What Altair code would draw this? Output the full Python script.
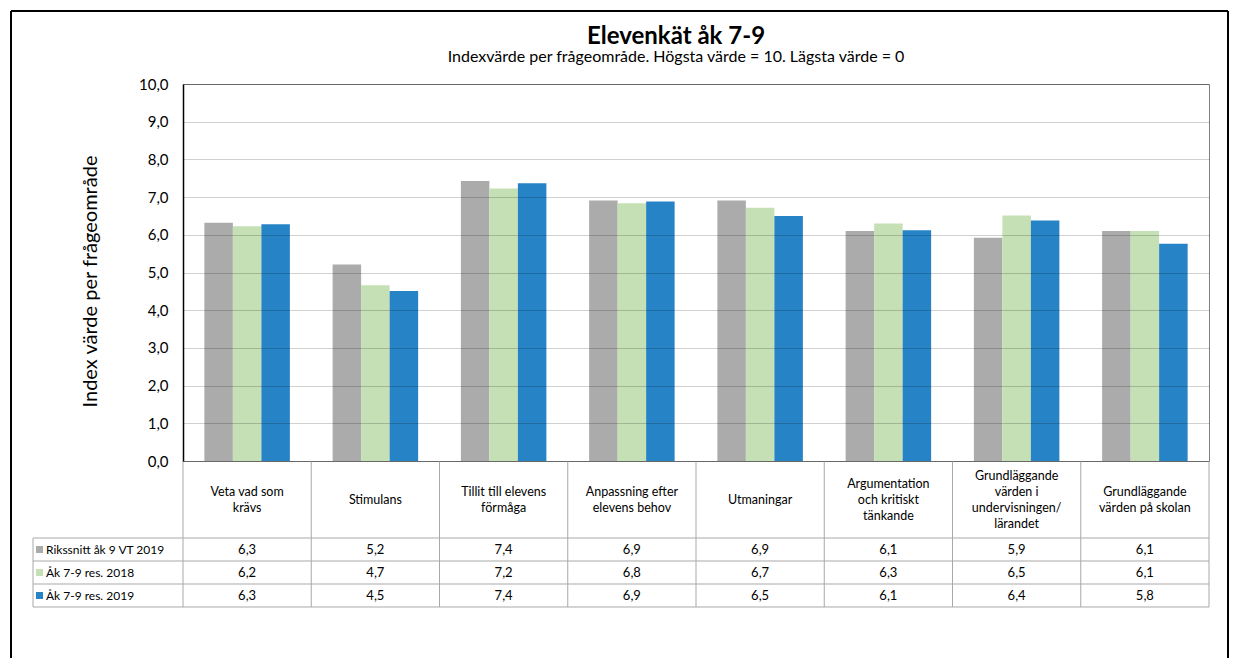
import altair as alt
import pandas as pd

categories = [
    "Veta vad som krävs",
    "Stimulans",
    "Tillit till elevens förmåga",
    "Anpassning efter elevens behov",
    "Utmaningar",
    "Argumentation och kritiskt tänkande",
    "Grundläggande värden i undervisningen/lärandet",
    "Grundläggande värden på skolan",
]
category_labels = [
    "Veta vad som\nkrävs",
    "Stimulans",
    "Tillit till elevens\nförmåga",
    "Anpassning efter\nelevens behov",
    "Utmaningar",
    "Argumentation\noch kritiskt\ntänkande",
    "Grundläggande\nvärden i\nundervisningen/\nlärandet",
    "Grundläggande\nvärden på skolan",
]
series = ["Rikssnitt åk 9 VT 2019", "Åk 7-9 res. 2018", "Åk 7-9 res. 2019"]
colors = ["#ababab", "#c5e0b4", "#2683c6"]

rikssnitt_vt2019 = [6.32, 5.21, 7.43, 6.91, 6.91, 6.10, 5.92, 6.10]
res_2018 = [6.23, 4.66, 7.23, 6.84, 6.72, 6.30, 6.51, 6.10]
res_2019 = [6.28, 4.51, 7.37, 6.88, 6.50, 6.12, 6.38, 5.76]

y_ticks = [0, 1, 2, 3, 4, 5, 6, 7, 8, 9, 10]

title_text = "Elevenkät åk 7-9"
subtitle_text = "Indexvärde per frågeområde. Högsta värde = 10. Lägsta värde = 0"
y_title = "Index värde per frågeområde"

# ---- build tables from the arrays ----
rows = []
for s, vals in zip(series, [rikssnitt_vt2019, res_2018, res_2019]):
    for c, v in zip(categories, vals):
        rows.append({"cat": c, "series": s, "value": v})
df = pd.DataFrame(rows)
cat_df = pd.DataFrame({"cat": categories, "label": category_labels})
cat_df["nlines"] = cat_df["label"].str.count("\n") + 1
ser_df = pd.DataFrame({"series": series})

# ---- layout constants (pixels, relative to plot area) ----
W, H = 1026, 377
HDR_BOTTOM = 454
TABLE_BOTTOM = 523
LEG_LEFT = -150
LINE = "#a9a9a9"
FONT = "Lato"
HDR_LH = 16
HDR_CENTER = 416

x_scale = alt.Scale(domain=categories, paddingInner=0, paddingOuter=0)
color_scale = alt.Scale(domain=series, range=colors)
row_scale = alt.Scale(domain=series, range=[HDR_BOTTOM, TABLE_BOTTOM], paddingInner=0, paddingOuter=0)

label_expr = "replace(format(datum.value, '.1f'), '.', ',')"

bars = alt.Chart(df).mark_bar().encode(
    x=alt.X("cat:N", sort=categories, scale=x_scale, axis=None),
    xOffset=alt.XOffset("series:N", sort=series,
                        scale=alt.Scale(domain=series, paddingInner=0, paddingOuter=0.75)),
    y=alt.Y("value:Q", scale=alt.Scale(domain=[0, 10]),
            axis=alt.Axis(values=y_ticks, labelExpr=label_expr, grid=True,
                          gridColor="#000000", gridOpacity=0.18, ticks=False,
                          domainColor="#000000", domainWidth=1.5,
                          labelPadding=15, labelFontSize=15, labelColor="#000000",
                          title=y_title, titleFontSize=20, titleFontWeight="normal",
                          titleColor="#000000", titleX=-83, titleY=197, zindex=1)),
    color=alt.Color("series:N", scale=color_scale, legend=None),
)

vlines = alt.Chart(cat_df).mark_rule(color=LINE, strokeWidth=1).encode(
    x=alt.X("cat:N", sort=categories, scale=x_scale, bandPosition=0, axis=None),
    y=alt.value(H), y2=alt.value(TABLE_BOTTOM),
)

header_layers = []
for n in sorted(cat_df["nlines"].unique()):
    header_layers.append(
        alt.Chart(cat_df).transform_filter(alt.datum.nlines == int(n)).mark_text(
            lineBreak="\n", fontSize=12.5, lineHeight=HDR_LH, baseline="middle", color="#000000"
        ).encode(
            x=alt.X("cat:N", sort=categories, scale=x_scale, axis=None),
            y=alt.value(HDR_CENTER - (int(n) - 1) * HDR_LH / 2),
            text="label:N",
        )
    )

values = alt.Chart(df).transform_calculate(
    txt="replace(format(datum.value, '.1f'), '.', ',')"
).mark_text(fontSize=13, baseline="middle", color="#000000").encode(
    x=alt.X("cat:N", sort=categories, scale=x_scale, axis=None),
    y=alt.Y("series:N", scale=row_scale, axis=None),
    text="txt:N",
)

swatches = alt.Chart(ser_df).mark_square(size=49, opacity=1).encode(
    x=alt.value(LEG_LEFT + 6.5),
    y=alt.Y("series:N", scale=row_scale, axis=None),
    color=alt.Color("series:N", scale=color_scale, legend=None),
)

leg_text = alt.Chart(ser_df).mark_text(
    align="left", baseline="middle", fontSize=12, color="#000000"
).encode(
    x=alt.value(LEG_LEFT + 13),
    y=alt.Y("series:N", scale=row_scale, axis=None),
    text="series:N",
)

def hrule(y, x1, x2, color=LINE, w=1):
    return alt.Chart(ser_df.head(1)).mark_rule(color=color, strokeWidth=w).encode(
        x=alt.value(x1), x2=alt.value(x2), y=alt.value(y))

def vrule(x, y1, y2, color=LINE, w=1):
    return alt.Chart(ser_df.head(1)).mark_rule(color=color, strokeWidth=w).encode(
        x=alt.value(x), y=alt.value(y1), y2=alt.value(y2))

table_lines = [
    hrule(HDR_BOTTOM, LEG_LEFT, W),
    hrule(HDR_BOTTOM + 23, LEG_LEFT, W),
    hrule(HDR_BOTTOM + 46, LEG_LEFT, W),
    hrule(TABLE_BOTTOM, LEG_LEFT, W),
    vrule(LEG_LEFT, HDR_BOTTOM, TABLE_BOTTOM),
    vrule(W, H, TABLE_BOTTOM),
]

frame = [
    hrule(-73, -172, 1045, "#000000", 2),
    vrule(-172, -73, 600, "#000000", 2),
    vrule(1045, -73, 600, "#000000", 2),
]

title = alt.Chart(ser_df.head(1)).mark_text(
    fontSize=24, fontWeight="bold", align="center", baseline="alphabetic", color="#000000"
).encode(x=alt.value(493), y=alt.value(-40.5), text=alt.value(title_text))

subtitle = alt.Chart(ser_df.head(1)).mark_text(
    fontSize=16, align="center", baseline="alphabetic", color="#000000"
).encode(x=alt.value(493), y=alt.value(-22), text=alt.value(subtitle_text))

chart = alt.layer(
    bars, vlines, *header_layers, values, swatches, leg_text, *table_lines, *frame, title, subtitle
).resolve_scale(y="independent").properties(
    width=W, height=H,
    padding={"left": 175, "top": 76, "right": 21, "bottom": 197},
    autosize=alt.AutoSizeParams(type="none"),
    background="white",
).configure(font=FONT).configure_view(stroke="#7f7f7f", strokeWidth=1)

chart.save("out.html", embed_options={"renderer": "svg", "actions": False})
